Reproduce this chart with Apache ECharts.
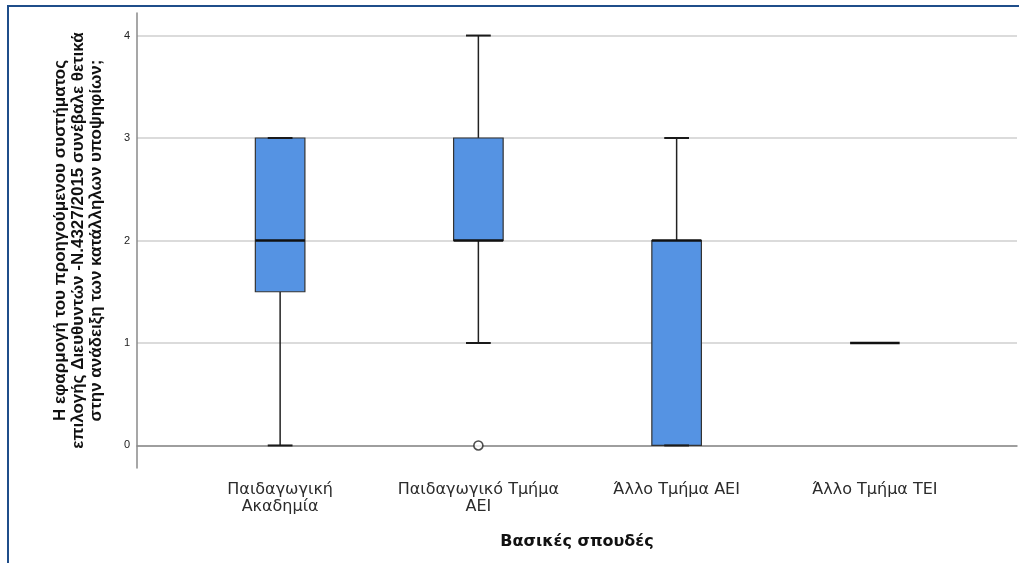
<!DOCTYPE html>
<html>
<head>
<meta charset="utf-8">
<script src="https://cdn.jsdelivr.net/npm/echarts@6/dist/echarts.min.js"></script>
<style>
  html, body { margin: 0; padding: 0; background: #fff; }
  #wrap { position: relative; width: 1019px; height: 563px; overflow: hidden; }
  #frame { position: absolute; left: 7px; top: 5px; width: 1100px; height: 700px;
           border-top: 2.5px solid #1f4e8a; border-left: 2.5px solid #1f4e8a; box-sizing: border-box; }
  #chart { position: absolute; left: 0; top: 0; width: 1019px; height: 563px; }
</style>
</head>
<body>
<div id="wrap">
  <div id="frame"></div>
  <div id="chart"></div>
</div>
<script>
// ---- data ----
const categories = ['Παιδαγωγική\nΑκαδημία', 'Παιδαγωγικό Τμήμα\nΑΕΙ', 'Άλλο Τμήμα ΑΕΙ', 'Άλλο Τμήμα ΤΕΙ'];
const whiskerLow  = [0, 1, 0, 1];
const quartile1   = [1.5, 2, 0, 1];
const medians     = [2, 2, 2, 1];
const quartile3   = [3, 3, 2, 1];
const whiskerHigh = [3, 4, 3, 1];
const outliers    = [[1, 0]];           // [category index, value]
const yTicks      = [0, 1, 2, 3, 4];

const yTitle = 'Η εφαρμογή του προηγούμενου συστήματος\nεπιλογής Διευθυντών -Ν.4327/2015 συνέβαλε θετικά\nστην ανάδειξη των κατάλληλων υποψηφίων;';
const xTitle = 'Βασικές σπουδές';

const boxData = categories.map((c, i) => [i, whiskerLow[i], quartile1[i], medians[i], quartile3[i], whiskerHigh[i]]);

const Y_MIN = -0.22, Y_MAX = 4.22;

const chart = echarts.init(document.getElementById('chart'), null, { renderer: 'canvas' });

const option = {
  backgroundColor: 'transparent',
  animation: false,
  grid: [
    { left: 137, right: 2, top: 13, bottom: 95 },
    { left: 181, width: 793, top: 13, bottom: 95 }
  ],
  xAxis: [
    {
      gridIndex: 0, type: 'value', min: 0, max: 1,
      axisLine: { show: true, lineStyle: { color: '#8a8a8a', width: 1.5 } },
      axisTick: { show: false }, axisLabel: { show: false }, splitLine: { show: false },
      name: xTitle, nameLocation: 'middle', nameGap: 66,
      nameTextStyle: { fontFamily: 'DejaVu Sans', fontWeight: 'bold', fontSize: 16, color: '#111' }
    },
    {
      gridIndex: 1, type: 'category', data: categories,
      axisLine: { show: false }, axisTick: { show: false }, splitLine: { show: false },
      axisLabel: { interval: 0, margin: 13, fontFamily: 'DejaVu Sans', fontSize: 16, color: '#2b2b2b', lineHeight: 17, align: 'center' }
    }
  ],
  yAxis: [
    {
      gridIndex: 0, type: 'value', min: Y_MIN, max: Y_MAX,
      axisLine: { show: true, lineStyle: { color: '#8a8a8a', width: 1.5 } },
      axisTick: { show: false },
      axisLabel: {
        margin: 7, fontFamily: 'Liberation Sans', fontSize: 11, color: '#222',
        showMinLabel: false, showMaxLabel: false,
        formatter: v => (yTicks.indexOf(v) >= 0 ? String(v) : '')
      },
      splitLine: { show: true, showMinLine: false, showMaxLine: false, lineStyle: { color: '#cfcfcf', width: 1.5 } },
      name: yTitle, nameLocation: 'middle', nameGap: 32, nameRotate: 90,
      nameTextStyle: { fontFamily: 'Liberation Sans', fontWeight: 'bold', fontSize: 17, color: '#111', lineHeight: 18, align: 'center' }
    },
    {
      gridIndex: 1, type: 'value', min: Y_MIN, max: Y_MAX, show: false,
      splitLine: { show: false }
    }
  ],
  series: [
    {
      type: 'custom',
      xAxisIndex: 1, yAxisIndex: 1,
      data: boxData,
      encode: { x: 0, y: [1, 2, 3, 4, 5] },
      renderItem: function (params, api) {
        const ci = api.value(0);
        const pLo = api.coord([ci, api.value(1)]);
        const pQ1 = api.coord([ci, api.value(2)]);
        const pMed = api.coord([ci, api.value(3)]);
        const pQ3 = api.coord([ci, api.value(4)]);
        const pHi = api.coord([ci, api.value(5)]);
        const band = api.size([1, 0])[0];
        const bw = band * 0.25;
        const cw = bw / 2;
        const cx = pLo[0];
        const wStyle = { stroke: '#222', lineWidth: 1.5 };
        const capStyle = { stroke: '#1a1a1a', lineWidth: 2 };
        const children = [];
        if (pLo[1] !== pQ1[1]) {
          children.push({ type: 'line', shape: { x1: cx, y1: pQ1[1], x2: cx, y2: pLo[1] }, style: wStyle });
        }
        if (pHi[1] !== pQ3[1]) {
          children.push({ type: 'line', shape: { x1: cx, y1: pQ3[1], x2: cx, y2: pHi[1] }, style: wStyle });
        }
        if (pQ3[1] !== pQ1[1]) {
          children.push({ type: 'rect', shape: { x: cx - bw / 2, y: pQ3[1], width: bw, height: pQ1[1] - pQ3[1] },
                          style: { fill: '#5593e3', stroke: '#333', lineWidth: 1.2 } });
        }
        children.push({ type: 'line', shape: { x1: cx - cw / 2, y1: pLo[1], x2: cx + cw / 2, y2: pLo[1] }, style: capStyle });
        children.push({ type: 'line', shape: { x1: cx - cw / 2, y1: pHi[1], x2: cx + cw / 2, y2: pHi[1] }, style: capStyle });
        children.push({ type: 'line', shape: { x1: cx - bw / 2, y1: pMed[1], x2: cx + bw / 2, y2: pMed[1] },
                        style: { stroke: '#111', lineWidth: 2.5 } });
        return { type: 'group', children: children };
      }
    },
    {
      type: 'scatter',
      xAxisIndex: 1, yAxisIndex: 1,
      data: outliers,
      symbol: 'circle', symbolSize: 9,
      itemStyle: { color: '#fff', borderColor: '#222', borderWidth: 1.6 }
    }
  ]
};

chart.setOption(option);
</script>
</body>
</html>
